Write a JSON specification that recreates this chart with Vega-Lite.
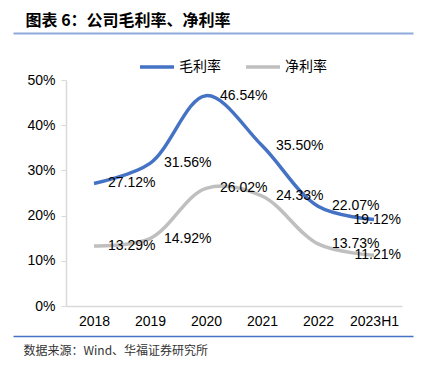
{
  "$schema": "https://vega.github.io/schema/vega-lite/v6.json",
  "width": 336,
  "height": 226,
  "autosize": {"type": "none"},
  "padding": {"left": 66, "top": 80, "right": 21, "bottom": 69},
  "background": "white",
  "config": {"view": {"stroke": null}, "font": "Liberation Sans"},
  "data": {"values": [
    {"year": "2018", "series": "毛利率", "value": 0.2712},
    {"year": "2019", "series": "毛利率", "value": 0.3156},
    {"year": "2020", "series": "毛利率", "value": 0.4654},
    {"year": "2021", "series": "毛利率", "value": 0.3550},
    {"year": "2022", "series": "毛利率", "value": 0.2207},
    {"year": "2023H1", "series": "毛利率", "value": 0.1912},
    {"year": "2018", "series": "净利率", "value": 0.1329},
    {"year": "2019", "series": "净利率", "value": 0.1492},
    {"year": "2020", "series": "净利率", "value": 0.2602},
    {"year": "2021", "series": "净利率", "value": 0.2433},
    {"year": "2022", "series": "净利率", "value": 0.1373},
    {"year": "2023H1", "series": "净利率", "value": 0.1121}
  ]},
  "resolve": {"scale": {"x": "independent"}, "axis": {"x": "independent"}},
  "layer": [
    {
      "mark": {"type": "line", "interpolate": "catmull-rom", "strokeWidth": 3.5},
      "encoding": {
        "x": {"field": "year", "type": "ordinal",
              "scale": {"type": "point", "padding": 0.5, "domain": ["2018", "2019", "2020", "2021", "2022", "2023H1"]},
              "axis": {"title": null, "orient": "bottom", "ticks": false, "labelAngle": 0, "labelFontSize": 14, "labelColor": "#000", "labelPadding": 8, "domainColor": "#d9d9d9", "domainWidth": 1.5, "grid": false}},
        "y": {"field": "value", "type": "quantitative",
              "scale": {"domain": [0, 0.5]},
              "axis": {"title": null, "format": ".0%", "values": [0, 0.1, 0.2, 0.3, 0.4, 0.5], "grid": false, "tickSize": 5, "tickColor": "#d9d9d9", "domainColor": "#d9d9d9", "domainWidth": 1.5, "labelFontSize": 14, "labelColor": "#000", "labelPadding": 6}},
        "color": {"field": "series", "type": "nominal",
                  "scale": {"domain": ["毛利率", "净利率"], "range": ["#4472C4", "#BFBFBF"]},
                  "legend": {"title": null, "orient": "none", "legendX": 72, "legendY": -32, "direction": "horizontal",
                             "symbolType": "stroke", "symbolSize": 1156, "symbolStrokeWidth": 3.5,
                             "labelFont": "Noto Sans CJK SC", "labelFontSize": 14, "labelColor": "#000", "labelOffset": 3, "columnPadding": 18}}
      }
    },
    {
      "transform": [{"filter": "datum.year !== '2023H1'"}],
      "mark": {"type": "text", "align": "left", "baseline": "middle", "dx": 14, "fontSize": 14, "color": "#000"},
      "encoding": {
        "x": {"field": "year", "type": "ordinal",
              "scale": {"type": "point", "padding": 0.5, "domain": ["2018", "2019", "2020", "2021", "2022", "2023H1"]},
              "axis": null},
        "y": {"field": "value", "type": "quantitative"},
        "text": {"field": "value", "type": "quantitative", "format": ".2%"}
      }
    },
    {
      "transform": [{"filter": "datum.year === '2023H1'"}],
      "mark": {"type": "text", "align": "right", "baseline": "middle", "dx": 27, "fontSize": 14, "color": "#000"},
      "encoding": {
        "x": {"field": "year", "type": "ordinal",
              "scale": {"type": "point", "padding": 0.5, "domain": ["2018", "2019", "2020", "2021", "2022", "2023H1"]},
              "axis": null},
        "y": {"field": "value", "type": "quantitative"},
        "text": {"field": "value", "type": "quantitative", "format": ".2%"}
      }
    },
    {
      "mark": {"type": "point", "opacity": 0},
      "encoding": {
        "x": {"field": "year", "type": "ordinal",
              "scale": {"type": "point", "range": [-53, 347], "domain": ["2018", "2019", "2020", "2021", "2022", "2023H1"]},
              "axis": {"orient": "top", "offset": 47, "labels": false, "ticks": false, "grid": false,
                       "domainColor": "#8EAADB", "domainWidth": 2,
                       "title": "图表 6：公司毛利率、净利率", "titleX": -41, "titleY": -13, "titleAlign": "left", "titleBaseline": "middle",
                       "titleFont": "Noto Sans CJK SC", "titleFontSize": 16, "titleFontWeight": "bold", "titleColor": "#000"}}
      }
    },
    {
      "mark": {"type": "point", "opacity": 0},
      "encoding": {
        "x": {"field": "year", "type": "ordinal",
              "scale": {"type": "point", "range": [-53, 347], "domain": ["2018", "2019", "2020", "2021", "2022", "2023H1"]},
              "axis": {"orient": "bottom", "offset": 30, "labels": false, "ticks": false, "grid": false,
                       "domainColor": "#4472C4", "domainWidth": 1.5,
                       "title": "数据来源：Wind、华福证券研究所", "titleX": -43, "titleY": 14, "titleAlign": "left", "titleBaseline": "middle",
                       "titleFont": "Noto Sans CJK SC", "titleFontSize": 12, "titleFontWeight": "normal", "titleColor": "#333"}}
      }
    }
  ]
}
